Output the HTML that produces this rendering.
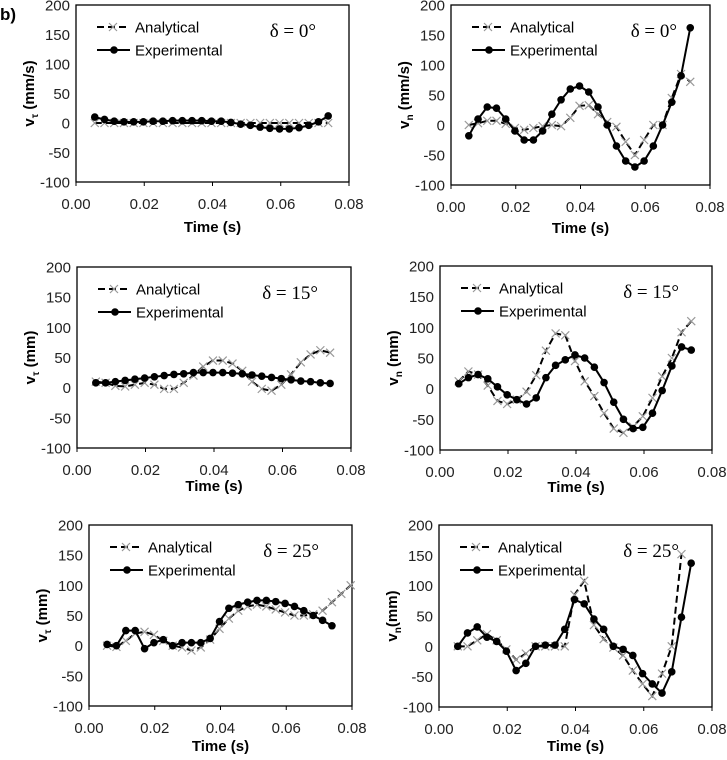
<!DOCTYPE html>
<html><head><meta charset="utf-8"><style>
body{margin:0;background:#fff;}
svg text{font-family:"Liberation Sans",sans-serif;}
</style></head><body>
<svg id="c" width="727" height="755" xmlns="http://www.w3.org/2000/svg">
<text x="0" y="20" font-size="17" font-weight="bold">b)</text>
</svg>
<script>
const xTicks=[0,0.02,0.04,0.06,0.08];
const xTickLabels=["0.00","0.02","0.04","0.06","0.08"];
const yTicks=[200,150,100,50,0,-50,-100];
const t0=0.0055, dt=0.00285;
const p1Exp=[10,6,3,2,2,2,3,3,4,4,4,4,3,3,1,-2,-4,-7,-9,-10,-10,-8,-4,2,12];
const p1Ana=[0,0,0,0,0,0,0,0,0,0,0,0,0,0,0,0,0,0,0,0,0,0,0,0,0];
const p2Exp=[-18,10,30,28,10,-10,-25,-25,-10,18,42,60,65,55,30,0,-35,-60,-70,-60,-35,0,38,82,162];
const p2Ana=[0,3,7,7,2,-5,-8,-5,-2,0,-2,12,32,33,18,5,-3,-28,-50,-25,0,0,45,85,72];
const p3Exp=[8,8,10,12,14,16,18,20,22,23,25,25,25,25,24,23,21,19,17,15,13,11,10,8,7];
const p3Ana=[10,8,3,2,5,8,5,-2,-2,8,20,35,45,45,40,28,10,-2,-5,5,22,42,55,62,58];
const p4Exp=[8,18,23,16,3,-10,-18,-25,-15,18,38,47,55,50,35,10,-22,-50,-65,-63,-40,-3,37,68,63];
const p4Ana=[12,28,23,5,-20,-25,-18,-5,22,62,90,87,45,12,-12,-40,-65,-72,-62,-45,-15,20,50,92,110];
const p5Exp=[2,0,25,25,-5,5,10,0,5,5,5,12,40,62,68,72,75,75,73,70,65,58,50,42,33];
const p5Ana=[0,-2,8,20,23,18,8,0,-3,-8,-3,10,28,45,58,65,68,65,60,55,50,50,52,58,72,86,100];
const p6Exp=[0,22,32,15,8,-8,-40,-28,0,2,2,28,77,70,45,28,0,-5,-15,-45,-62,-77,-42,48,137];
const p6Ana=[0,0,10,20,10,-5,-22,-12,0,0,0,0,85,108,35,12,-2,-15,-40,-62,-82,-45,0,152];

const panels=[
 {l:76,r:349,t:5,b:182,xo:50,yl:["v","τ"," (mm/s)"],d:"δ = 0°",exp:p1Exp,ana:p1Ana},
 {l:451,r:710,t:5,b:185,xo:48,yl:["v","n"," (mm/s)"],d:"δ = 0°",exp:p2Exp,ana:p2Ana},
 {l:77,r:351,t:267,b:448,xo:43,yl:["v","τ"," (mm)"],d:"δ = 15°",exp:p3Exp,ana:p3Ana},
 {l:440,r:712,t:266,b:450,xo:42,yl:["v","n"," (mm)"],d:"δ = 15°",exp:p4Exp,ana:p4Ana},
 {l:89,r:352,t:525,b:706,xo:45,yl:["v","τ"," (mm)"],d:"δ = 25°",exp:p5Exp,ana:p5Ana},
 {l:439,r:712,t:525,b:707,xo:44,yl:["v","n","(mm)"],d:"δ = 25°",exp:p6Exp,ana:p6Ana}
];
const svg=document.getElementById('c');
const NS="http://www.w3.org/2000/svg";
function mk(tag,attrs,parent){const e=document.createElementNS(NS,tag);for(const k in attrs)e.setAttribute(k,attrs[k]);(parent||svg).appendChild(e);return e;}
panels.forEach((p,i)=>{
 const g=mk('g',{});
 
 
 const X=v=>p.l+(v/0.08)*(p.r-p.l);
 const Y=v=>p.b-(v+100)/300*(p.b-p.t);
 const box=mk('rect',{x:p.l,y:p.t,width:p.r-p.l,height:p.b-p.t,fill:'none',stroke:'#000','stroke-width':1.3},g);
 
 
 yTicks.forEach(v=>{
  const tx=mk('text',{x:p.l-6,y:Y(v)+5.5,'font-size':15,'text-anchor':'end',fill:'#222'},g);
  tx.textContent=String(v);
  
  
 });
 xTicks.forEach((v,k)=>{
  mk('line',{x1:X(v),x2:X(v),y1:p.b,y2:p.b+4,stroke:'#000'},g);
  const tx=mk('text',{x:X(v),y:p.b+27,'font-size':15,'text-anchor':'middle',fill:'#222'},g);
  tx.textContent=xTickLabels[k];
  
  
 });
 const xt=mk('text',{x:(p.l+p.r)/2,y:p.b+p.xo,'font-size':15,'font-weight':'bold','text-anchor':'middle'},g);
 xt.textContent='Time (s)';
 
 
 const yt=mk('text',{transform:`translate(${p.l-42},${(p.t+p.b)/2}) rotate(-90)`,'font-size':15,'font-weight':'bold','text-anchor':'middle'},g);
 yt.innerHTML=`${p.yl[0]}<tspan font-size="10" dy="4">${p.yl[1]}</tspan><tspan dy="-4">${p.yl[2]}</tspan>`;
 
 
 const ap=p.ana.map((v,k)=>X(t0+k*dt)+','+Y(v)).join(' ');
 const al=mk('polyline',{points:ap,fill:'none',stroke:'#000','stroke-width':2,'stroke-dasharray':'7,4'},g);
 
 
 p.ana.forEach((v,k)=>{
  const cx=X(t0+k*dt),cy=Y(v);
  const m=mk('path',{d:`M${cx-4},${cy-4}L${cx+4},${cy+4}M${cx-4},${cy+4}L${cx+4},${cy-4}`,stroke:'#999','stroke-width':1.2},g);
  
  
 });
 const ep=p.exp.map((v,k)=>X(t0+k*dt)+','+Y(v)).join(' ');
 const el=mk('polyline',{points:ep,fill:'none',stroke:'#000','stroke-width':2},g);
 
 
 p.exp.forEach((v,k)=>{
  const c=mk('circle',{cx:X(t0+k*dt),cy:Y(v),r:3.8,fill:'#000'},g);
  
  
 });
 const lx=p.l+21,ly1=p.t+22,ly2=p.t+45;
 const lg=mk('g',{},g);
 
 
 mk('line',{x1:lx,x2:lx+33,y1:ly1,y2:ly1,stroke:'#000','stroke-width':2,'stroke-dasharray':'7,4'},lg);
 mk('path',{d:`M${lx+12},${ly1-4}L${lx+20},${ly1+4}M${lx+12},${ly1+4}L${lx+20},${ly1-4}`,stroke:'#999','stroke-width':1.2},lg);
 const t1=mk('text',{x:lx+38,y:ly1+5.5,'font-size':15},lg);t1.textContent='Analytical';
 
 
 mk('line',{x1:lx,x2:lx+33,y1:ly2,y2:ly2,stroke:'#000','stroke-width':2},lg);
 mk('circle',{cx:lx+17,cy:ly2,r:3.8,fill:'#000'},lg);
 const t2=mk('text',{x:lx+38,y:ly2+5.5,'font-size':15},lg);t2.textContent='Experimental';
 
 
 const dtx=mk('text',{x:p.r-33,y:p.t+32,'font-size':19,'text-anchor':'end'},g);
 dtx.setAttribute('style','font-family:"Liberation Serif",serif');
 dtx.textContent=p.d;
 
 
});
</script>
</body></html>
